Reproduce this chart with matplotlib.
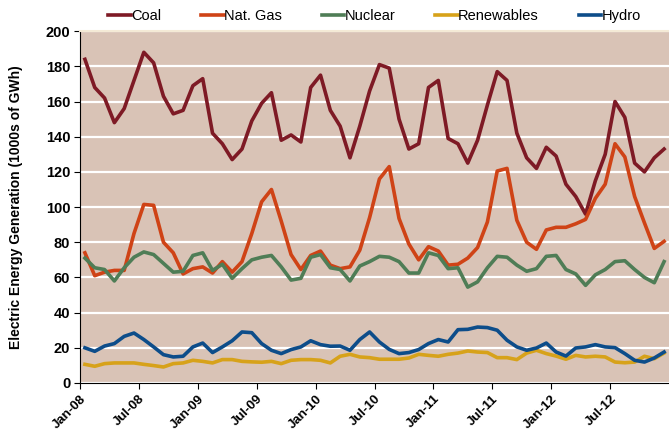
import matplotlib.pyplot as plt
import numpy as np

plt.rcParams['font.family'] = ['Liberation Sans', 'DejaVu Sans']

# Monthly generation, Jan-08 .. Dec-12 (1000s of GWh)
tick_labels = ['Jan-08', 'Jul-08', 'Jan-09', 'Jul-09', 'Jan-10',
               'Jul-10', 'Jan-11', 'Jul-11', 'Jan-12', 'Jul-12']

coal = [184, 168, 162, 148, 156, 172, 188, 182, 163, 153, 155, 169,
        173, 142, 136, 127, 133, 149, 159, 165, 138, 141, 137, 168,
        175, 155, 146, 128, 146, 166, 181, 179, 150, 133, 136, 168,
        172, 139, 136, 125, 138, 158, 177, 172, 142, 128, 122, 134,
        129, 113, 106, 96, 115, 130, 160, 151, 125, 120, 128, 133]
nat_gas = [74, 61, 63, 64, 64, 85, 101.5, 101, 80, 74, 62, 65,
           66, 62.5, 69, 63, 69, 85, 103, 110, 92, 73, 64.5, 72.5,
           75, 67, 65, 66, 75.5, 94, 116, 123, 93.5, 79, 70, 77.5,
           75, 67, 67.5, 71, 77, 91.5, 120.5, 122, 92.5, 80, 76, 87,
           88.5, 88.5, 90.5, 93, 105, 113, 136, 128.5, 106, 91, 76.5, 80.5]
nuclear = [71, 65.5, 64.5, 58, 65.5, 71.5, 74.5, 73, 68, 63, 63.5, 72.5,
           74, 64, 67.5, 59.5, 65, 70, 71.5, 72.5, 66, 58.5, 59.5, 71.5,
           73, 65.5, 64.5, 58, 66.5, 69, 72, 71.5, 69, 62.5, 62.5, 74,
           72.5, 65, 65.5, 54.5, 57.5, 65.5, 72, 71.5, 67, 63.5, 65, 72,
           72.5, 64.5, 62, 55.5, 61.5, 64.5, 69, 69.5, 64.5, 60, 57, 69]
renewables = [10.6, 9.5, 11, 11.4, 11.4, 11.4, 10.6, 9.9, 9.1, 11, 11.4, 12.9,
              12.3, 11.4, 13.3, 13.3, 12.3, 12, 11.8, 12.3, 11, 12.9, 13.3, 13.3,
              12.9, 11.4, 15.2, 16.3, 14.8, 14.4, 13.5, 13.5, 13.5, 14.2, 16.3, 15.7,
              15.2, 16.3, 17, 18.2, 17.6, 17.3, 14.4, 14.4, 13.3, 17, 18.6, 16.7,
              15.3, 13.5, 15.7, 14.8, 15.2, 14.8, 11.9, 11.5, 11.9, 15.2, 13.8, 17]
hydro = [20, 18, 21, 22.4, 26.5, 28.4, 24.7, 20.5, 16.1, 14.8, 15.2, 20.5,
         22.7, 17.3, 20.5, 24, 29, 28.6, 22.4, 18.6, 16.7, 19, 20.5, 24,
         21.8, 20.9, 21, 18.6, 24.7, 29, 23.3, 19.1, 16.7, 17.3, 19, 22.4,
         24.7, 23.3, 30.3, 30.5, 31.8, 31.5, 30, 24.3, 20.5, 18.6, 19.9, 22.7,
         17.6, 15.3, 19.9, 20.5, 21.8, 20.5, 20.1, 16.7, 12.9, 11.9, 14.2, 17.6]

x = np.arange(len(coal)) + 0.5  # points sit between tick marks

fig = plt.figure(figsize=(6.69, 4.33), dpi=100)
ax = fig.add_axes([0.1196, 0.1155, 0.8804, 0.8125])
ax.set_facecolor('#d9c3b6')

lw = 2.6
ax.plot(x, coal, color='#7e1a25', lw=lw, label='Coal')
ax.plot(x, nat_gas, color='#cf4316', lw=lw, label='Nat. Gas')
ax.plot(x, nuclear, color='#4f7d56', lw=lw, label='Nuclear')
ax.plot(x, renewables, color='#d7a21a', lw=lw, label='Renewables')
ax.plot(x, hydro, color='#0d4d8a', lw=lw, label='Hydro')

ax.set_ylim(0, 200)
ax.set_xlim(0, len(coal))
ax.set_yticks(np.arange(0, 201, 20))
ax.set_xticks(np.arange(0, len(coal), 6))
ax.set_xticklabels(tick_labels, rotation=45, ha='right', rotation_mode='anchor',
                   fontsize=9.5, fontweight='bold')
for lab in ax.get_yticklabels():
    lab.set_fontweight('bold')
    lab.set_fontsize(10.5)

ax.yaxis.grid(True, color='white', lw=1.6)
ax.set_axisbelow(True)
ax.spines['top'].set_color('#f4ead6')
ax.spines['top'].set_linewidth(1.5)
ax.spines['right'].set_visible(False)
ax.spines['left'].set_color('black')
ax.spines['bottom'].set_color('black')
ax.tick_params(axis='both', length=4, color='black', pad=3)

ax.set_ylabel('Electric Energy Generation (1000s of GWh)', fontsize=10,
              fontweight='bold', labelpad=16)

ax.legend(loc='lower center', bbox_to_anchor=(0.5, 1.0), ncol=5, frameon=False,
          fontsize=10.5, handlelength=1.55, handletextpad=0.0, columnspacing=2.75,
          borderaxespad=0.15)

plt.savefig('out.png', dpi=100)
